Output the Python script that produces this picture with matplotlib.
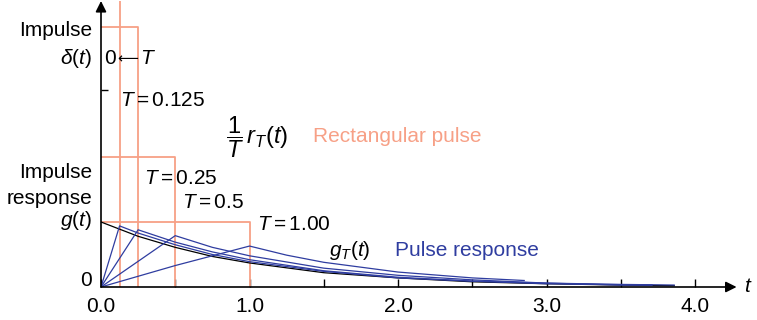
import matplotlib
matplotlib.use("Agg")
import matplotlib.pyplot as plt

plt.rcParams["font.family"] = ["Liberation Sans", "DejaVu Sans"]
plt.rcParams["mathtext.fontset"] = "custom"
plt.rcParams["mathtext.rm"] = "Liberation Sans"
plt.rcParams["mathtext.it"] = "Liberation Sans:italic"

# larguras dos pulsos e alturas 1/T
pulse_T = [0.125, 0.25, 0.5, 1.0]
pulse_h = [8, 4, 2, 1]

# resposta ao impulso g(t)
g_t = [0, 0.25, 0.5, 0.75, 1.0, 1.5, 2.0, 2.5, 3.0, 3.5, 3.86]
g_y = [1.0, 0.78, 0.61, 0.47, 0.37, 0.22, 0.14, 0.08, 0.05, 0.03, 0.02]

# respostas ao pulso g_T(t)
resp_t = [
    [0, 0.125, 0.25, 0.5, 0.75, 1.0, 1.5, 2.0, 2.5, 3.0, 3.71],
    [0, 0.25, 0.5, 0.75, 1.0, 1.5, 2.0, 2.5, 3.0, 3.5, 3.71],
    [0, 0.5, 0.75, 1.0, 1.5, 2.0, 2.5, 3.0, 3.5, 3.86],
    [0, 0.5, 1.0, 1.25, 1.5, 2.0, 2.5, 2.85],
]
resp_y = [
    [0, 0.94, 0.83, 0.65, 0.50, 0.39, 0.24, 0.14, 0.09, 0.05, 0.03],
    [0, 0.88, 0.69, 0.54, 0.42, 0.25, 0.15, 0.09, 0.06, 0.03, 0.03],
    [0, 0.79, 0.61, 0.48, 0.29, 0.18, 0.11, 0.06, 0.04, 0.03],
    [0, 0.33, 0.63, 0.49, 0.38, 0.23, 0.14, 0.10],
]

orange = "#F7A086"
blue = "#2F3DA0"
W, H = 757, 320
fs = 15

fig = plt.figure(figsize=(W / 100, H / 100), dpi=100)
ax = fig.add_axes([101 / W, 33 / H, 639 / W, 286 / H])
ax.set_xlim(0, 639 / 148.5)
ax.set_ylim(0, 286 / 65)
for s in ax.spines.values():
    s.set_visible(False)

# pulsos retangulares
for T, h in zip(pulse_T, pulse_h):
    ax.plot([0, T, T], [h, h, 0], color=orange, lw=1.3, zorder=2)

# curvas
ax.plot(g_t, g_y, color="black", lw=0.9, zorder=3)
for tt, yy in zip(resp_t, resp_y):
    ax.plot(tt, yy, color=blue, lw=0.9, zorder=4)

# eixos com setas
arr = dict(arrowstyle="-|>", color="black", lw=1.2, mutation_scale=16, shrinkA=0, shrinkB=0)
ax.annotate("", xy=(4.28, 0), xytext=(0, 0), arrowprops=arr, annotation_clip=False, zorder=5)
ax.annotate("", xy=(0, 4.40), xytext=(0, 0), arrowprops=arr, annotation_clip=False, zorder=5)

ax.set_xticks([0, 1, 2, 3, 4])
ax.set_xticklabels(["0.0", "1.0", "2.0", "3.0", "4.0"])
ax.set_xticks([0.5, 1.5, 2.5, 3.5], minor=True)
ax.tick_params(axis="x", which="both", direction="in", length=6, width=1, pad=7, labelsize=fs)
ax.set_yticks([3.03])
ax.set_yticklabels([""])
ax.tick_params(axis="y", direction="in", length=5, width=1)


def txt(px, py, s, ha="left", color="black", size=fs, family=None):
    fig.text(px / W, 1 - py / H, s, ha=ha, va="center", color=color, fontsize=size, family=family)


txt(92, 31, "Impulse", ha="right")
txt(92, 59, r"$\delta(t)$", ha="right")
txt(104, 59, "0")
txt(117, 59, "⟵", family=["DejaVu Sans"], size=10.5)
txt(140, 59, r"$T$")
txt(120, 100, r"$T = 0.125$")
txt(226, 137, r"$\dfrac{1}{T}\,r_T(t)$", size=17)
txt(313, 136, "Rectangular pulse", color=orange)
txt(92, 172, "Impulse", ha="right")
txt(92, 198, "response", ha="right")
txt(92, 221, r"$g(t)$", ha="right")
txt(92, 281, "0", ha="right")
txt(144, 178, r"$T = 0.25$")
txt(182, 202, r"$T = 0.5$")
txt(257, 224, r"$T = 1.00$")
txt(329, 251, r"$g_T(t)$")
txt(395, 251, "Pulse response", color=blue)
txt(744, 287, r"$t$")

plt.savefig("out.png", dpi=100)
plt.close()
